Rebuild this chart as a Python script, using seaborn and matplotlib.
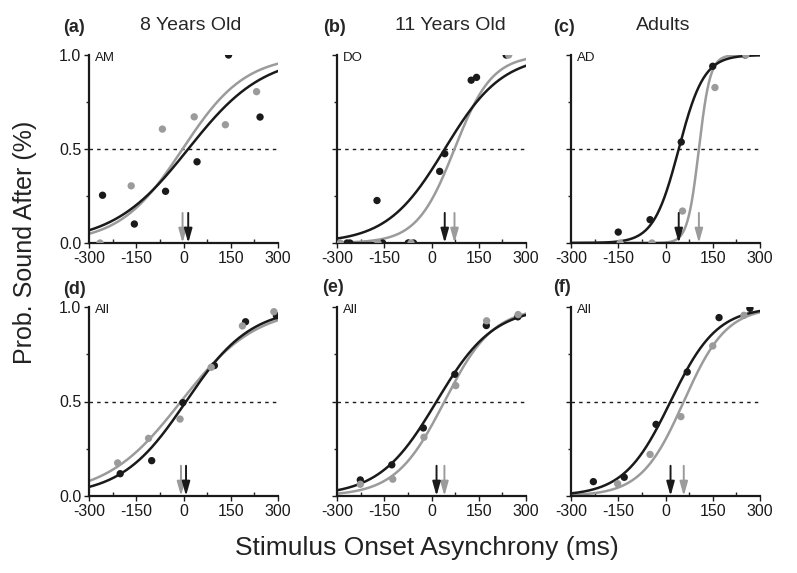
import numpy as np
import pandas as pd
import matplotlib
matplotlib.use('Agg')
import matplotlib.pyplot as plt
from matplotlib.ticker import MultipleLocator
import seaborn as sns

sns.set_style('ticks')
plt.rcParams['font.family'] = ['Liberation Sans', 'DejaVu Sans']
plt.rcParams['axes.unicode_minus'] = False

# data
panel_letters = ['(a)', '(b)', '(c)', '(d)', '(e)', '(f)']
col_titles = ['8 Years Old', '11 Years Old', 'Adults']
inner_labels = ['AM', 'DO', 'AD', 'All', 'All', 'All']

black_x = [
    [-257, -156, -57, 43, 143, 243],
    [-268, -259, -173, -155, -74, -57, 26, 42, 126, 143, 237],
    [-150, -49, 50, 150, 253],
    [-201, -101, -2, 98, 197, 295],
    [-226, -126, -26, 74, 174, 274],
    [-229, -131, -30, 69, 170, 268],
]
black_y = [
    [0.254, 0.101, 0.275, 0.432, 1.0, 0.67],
    [0.0, 0.0, 0.226, 0.0, 0.0, 0.0, 0.381, 0.475, 0.866, 0.881, 1.0],
    [0.058, 0.124, 0.537, 0.94, 1.0],
    [0.118, 0.187, 0.494, 0.69, 0.922, 0.954],
    [0.085, 0.165, 0.36, 0.644, 0.902, 0.948],
    [0.076, 0.099, 0.379, 0.656, 0.944, 0.993],
]
gray_x = [
    [-265, -166, -67, 34, 133, 232],
    [-290, -170, -65, 245],
    [-144, -43, 54, 157, 255],
    [-209, -111, -11, 88, 187, 287],
    [-226, -123, -24, 77, 175, 275],
    [-152, -49, 49, 150, 249],
]
gray_y = [
    [0.0, 0.304, 0.606, 0.671, 0.629, 0.805],
    [0.0, 0.0, 0.0, 1.0],
    [0.0, 0.0, 0.17, 0.827, 1.0],
    [0.175, 0.305, 0.407, 0.681, 0.90, 0.975],
    [0.062, 0.089, 0.311, 0.584, 0.927, 0.96],
    [0.065, 0.22, 0.42, 0.794, 0.956],
]
# logistic fits: point of subjective equality and slope
black_pse = [15, 42, 42, 8, 16, 16]
black_slope = [120, 92, 40, 103, 91, 74]
gray_pse = [-3, 73, 106, -8, 41, 58]
gray_slope = [100, 60, 18, 119, 78, 68]

BLACK = '#1a1a1a'
GRAY = '#9b9b9b'

fig = plt.figure(figsize=(7.97, 5.73), dpi=100)
W, H = 797.0, 573.0
cols = [(89, 278), (337, 526), (571, 760)]
rows = [(55, 243), (307, 496)]

xs = np.linspace(-300, 300, 400)
for i in range(6):
    r, c = divmod(i, 3)
    x0, x1 = cols[c]
    y0, y1 = rows[r]
    ax = fig.add_axes([x0 / W, 1 - y1 / H, (x1 - x0) / W, (y1 - y0) / H])

    curves = pd.DataFrame({
        'x': np.concatenate([xs, xs]),
        'p': np.concatenate([1 / (1 + np.exp(-(xs - black_pse[i]) / black_slope[i])),
                             1 / (1 + np.exp(-(xs - gray_pse[i]) / gray_slope[i]))]),
        'cond': ['k'] * len(xs) + ['g'] * len(xs),
    })
    pts = pd.DataFrame({
        'x': black_x[i] + gray_x[i],
        'p': black_y[i] + gray_y[i],
        'cond': ['k'] * len(black_x[i]) + ['g'] * len(gray_x[i]),
    })
    pal = {'k': BLACK, 'g': GRAY}
    ax.axhline(0.5, color=BLACK, lw=1, ls=(0, (2.5, 3)))
    sns.lineplot(data=curves, x='x', y='p', hue='cond', palette=pal, hue_order=['g', 'k'],
                 lw=1.8, legend=False, ax=ax)
    sns.scatterplot(data=pts, x='x', y='p', hue='cond', palette=pal, hue_order=['g', 'k'],
                    s=28, edgecolor='none', legend=False, ax=ax, zorder=3)

    for pse, colr in [(gray_pse[i], GRAY), (black_pse[i], BLACK)]:
        ax.annotate('', xy=(pse, 0.0), xytext=(pse, 0.16),
                    arrowprops=dict(arrowstyle='-|>,head_length=0.85,head_width=0.24',
                                    color=colr, lw=1.4, shrinkA=0, shrinkB=0))

    ax.set_xlim(-300, 300)
    ax.set_ylim(0, 1)
    ax.set_xlabel('')
    ax.set_ylabel('')
    ax.set_xticks([-300, -150, 0, 150, 300])
    ax.xaxis.set_minor_locator(MultipleLocator(75))
    ax.yaxis.set_minor_locator(MultipleLocator(0.25))
    ax.set_yticks([0, 0.5, 1.0])
    if c == 0:
        ax.set_yticklabels(['0.0', '0.5', '1.0'])
    else:
        ax.set_yticklabels([])
    ax.tick_params(axis='both', which='major', labelsize=11.5, length=3.5, width=1,
                   direction='out', pad=2, colors=BLACK)
    ax.tick_params(axis='x', which='minor', length=3, width=1, direction='in')
    ax.tick_params(axis='y', which='minor', length=2.5, width=1, direction='out')
    sns.despine(ax=ax)
    for s in ['left', 'bottom']:
        ax.spines[s].set_linewidth(1.6)
        ax.spines[s].set_color(BLACK)
    ax.patch.set_alpha(0)
    ax.text(0.03, 0.985, inner_labels[i], transform=ax.transAxes, fontsize=9.5,
            va='center', ha='left', color=BLACK)

# panel letters and column titles
letter_pos = [(63, 27), (323, 27), (553, 27), (63, 289), (322, 288), (553, 287)]
for lbl, (lx, ly) in zip(panel_letters, letter_pos):
    fig.text(lx / W, 1 - ly / H, lbl, fontsize=13, fontweight='bold', ha='left', va='center')
title_pos = [(191, 25), (450, 25), (663, 25)]
for t, (tx, ty) in zip(col_titles, title_pos):
    fig.text(tx / W, 1 - ty / H, t, fontsize=14, ha='center', va='center')

fig.text(427 / W, 1 - 548 / H, 'Stimulus Onset Asynchrony (ms)', fontsize=19,
         ha='center', va='center', color='#222222')
fig.text(25 / W, 1 - 242 / H, 'Prob. Sound After (%)', fontsize=18, rotation=90,
         ha='center', va='center', color='#222222')

fig.savefig('out.png', dpi=100)
